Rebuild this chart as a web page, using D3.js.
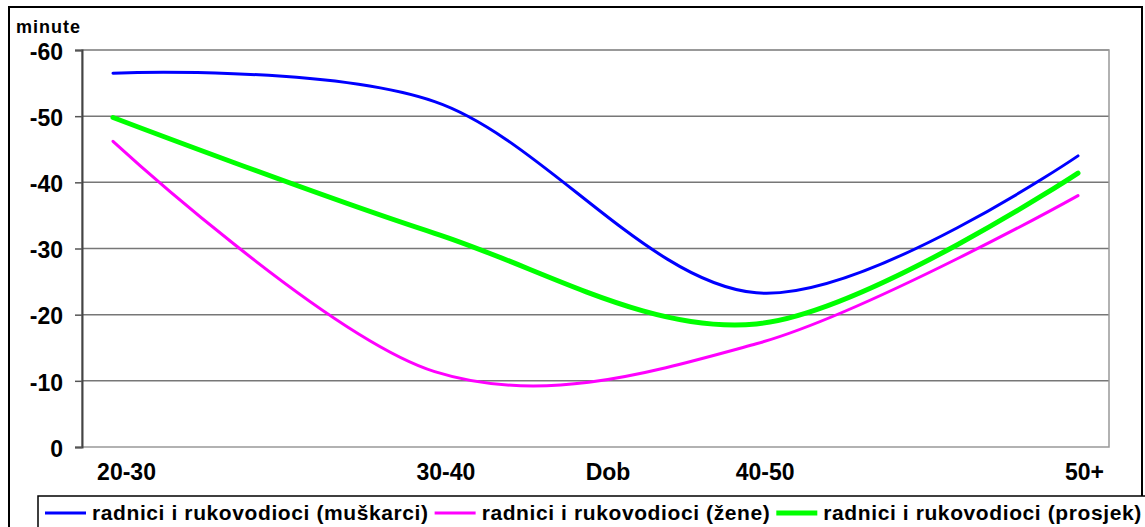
<!DOCTYPE html>
<html>
<head>
<meta charset="utf-8">
<script src="https://cdn.jsdelivr.net/npm/d3@7"></script>
<style>
  body { margin: 0; background: #fff; }
  text { font-family: "Liberation Sans", Arial, sans-serif; font-weight: bold; fill: #000; }
</style>
</head>
<body>
<svg id="chart" width="1145" height="527"></svg>
<script>
const categories = ["20-30", "30-40", "40-50", "50+"];
const muskarci = [-56.5, -52.2, -23.3, -44.0];
const zene = [-46.2, -11.4, -15.6, -38.0];
const prosjek = [-49.8, -32.3, -18.6, -41.4];
const seriesNames = [
  "radnici i rukovodioci (muškarci)",
  "radnici i rukovodioci (žene)",
  "radnici i rukovodioci (prosjek)"
];
const yTicks = [0, -10, -20, -30, -40, -50, -60];
const yTitle = "minute";
const xTitle = "Dob";

const series = [
  { name: seriesNames[0], values: muskarci, color: "#0000ff", width: 3 },
  { name: seriesNames[1], values: zene, color: "#ff00ff", width: 3 },
  { name: seriesNames[2], values: prosjek, color: "#00ff00", width: 5 }
];

const svg = d3.select("#chart");
const plot = { left: 82, right: 1109, top: 50, bottom: 447 };

const x = d3.scalePoint().domain(categories).range([113, 1078]);
const xLabel = d3.scalePoint().domain(categories).range([126, 1084]);
const y = d3.scaleLinear().domain([0, -60]).range([plot.bottom, plot.top]);

// outer frame
svg.append("rect")
  .attr("x", 9).attr("y", 7)
  .attr("width", 1133).attr("height", 540)
  .attr("fill", "none").attr("stroke", "#000").attr("stroke-width", 2);

// gridlines
svg.append("g")
  .selectAll("line")
  .data(yTicks.filter(d => d !== 0))
  .join("line")
  .attr("x1", plot.left).attr("x2", plot.right)
  .attr("y1", d => y(d)).attr("y2", d => y(d))
  .attr("stroke", "#777").attr("stroke-width", 1.5);

// plot area border
svg.append("rect")
  .attr("x", plot.left).attr("y", plot.top)
  .attr("width", plot.right - plot.left).attr("height", plot.bottom - plot.top)
  .attr("fill", "none").attr("stroke", "#999").attr("stroke-width", 1.5);

// y axis
const yAxis = svg.append("g")
  .attr("transform", `translate(${plot.left},0)`)
  .call(d3.axisLeft(y).tickValues(yTicks).tickSize(7).tickPadding(12).tickFormat(d => String(d)));
yAxis.select(".domain").attr("stroke", "#444").attr("stroke-width", 2);
yAxis.selectAll(".tick line").attr("stroke", "#555").attr("stroke-width", 1.5);
yAxis.selectAll("text")
  .style("font-size", "23px")
  .style("font-family", "'Liberation Sans', Arial, sans-serif")
  .style("font-weight", "bold")
  .attr("fill", "#000")
  .attr("dy", "0.4em");

svg.append("text")
  .attr("x", 16).attr("y", 33)
  .style("font-size", "18px")
  .attr("letter-spacing", "1px")
  .text(yTitle);

// x labels
const xAxis = svg.append("g")
  .attr("transform", `translate(0,${plot.bottom})`)
  .call(d3.axisBottom(xLabel).tickSize(0).tickPadding(17));
xAxis.select(".domain").remove();
xAxis.selectAll("text")
  .style("font-size", "23px")
  .style("font-family", "'Liberation Sans', Arial, sans-serif")
  .style("font-weight", "bold")
  .attr("fill", "#000");

svg.append("text")
  .attr("x", (xLabel("30-40") + xLabel("40-50")) / 2 + 3)
  .attr("y", plot.bottom + 17 + 0.71 * 23)
  .attr("text-anchor", "middle")
  .style("font-size", "23px")
  .text(xTitle);

// lines
const line = d3.line()
  .x((d, i) => x(categories[i]))
  .y(d => y(d))
  .curve(d3.curveCatmullRom.alpha(0));

svg.append("g")
  .selectAll("path")
  .data(series)
  .join("path")
  .attr("d", d => line(d.values))
  .attr("fill", "none")
  .attr("stroke", d => d.color)
  .attr("stroke-width", d => d.width)
  .attr("stroke-linecap", "round")
  .attr("stroke-linejoin", "round");

// legend
svg.append("rect")
  .attr("x", 38).attr("y", 496)
  .attr("width", 1120).attr("height", 60)
  .attr("fill", "#fff").attr("stroke", "#000").attr("stroke-width", 1.5);

let lx = 45;
const ly = 513;
series.forEach(s => {
  svg.append("line")
    .attr("x1", lx).attr("x2", lx + 41)
    .attr("y1", ly).attr("y2", ly)
    .attr("stroke", s.color).attr("stroke-width", s.width);
  const t = svg.append("text")
    .attr("x", lx + 47).attr("y", ly + 7)
    .style("font-size", "21px")
    .attr("letter-spacing", "0.6px")
    .text(s.name);
  lx += 47 + t.node().getComputedTextLength() + 6;
});
</script>
</body>
</html>
